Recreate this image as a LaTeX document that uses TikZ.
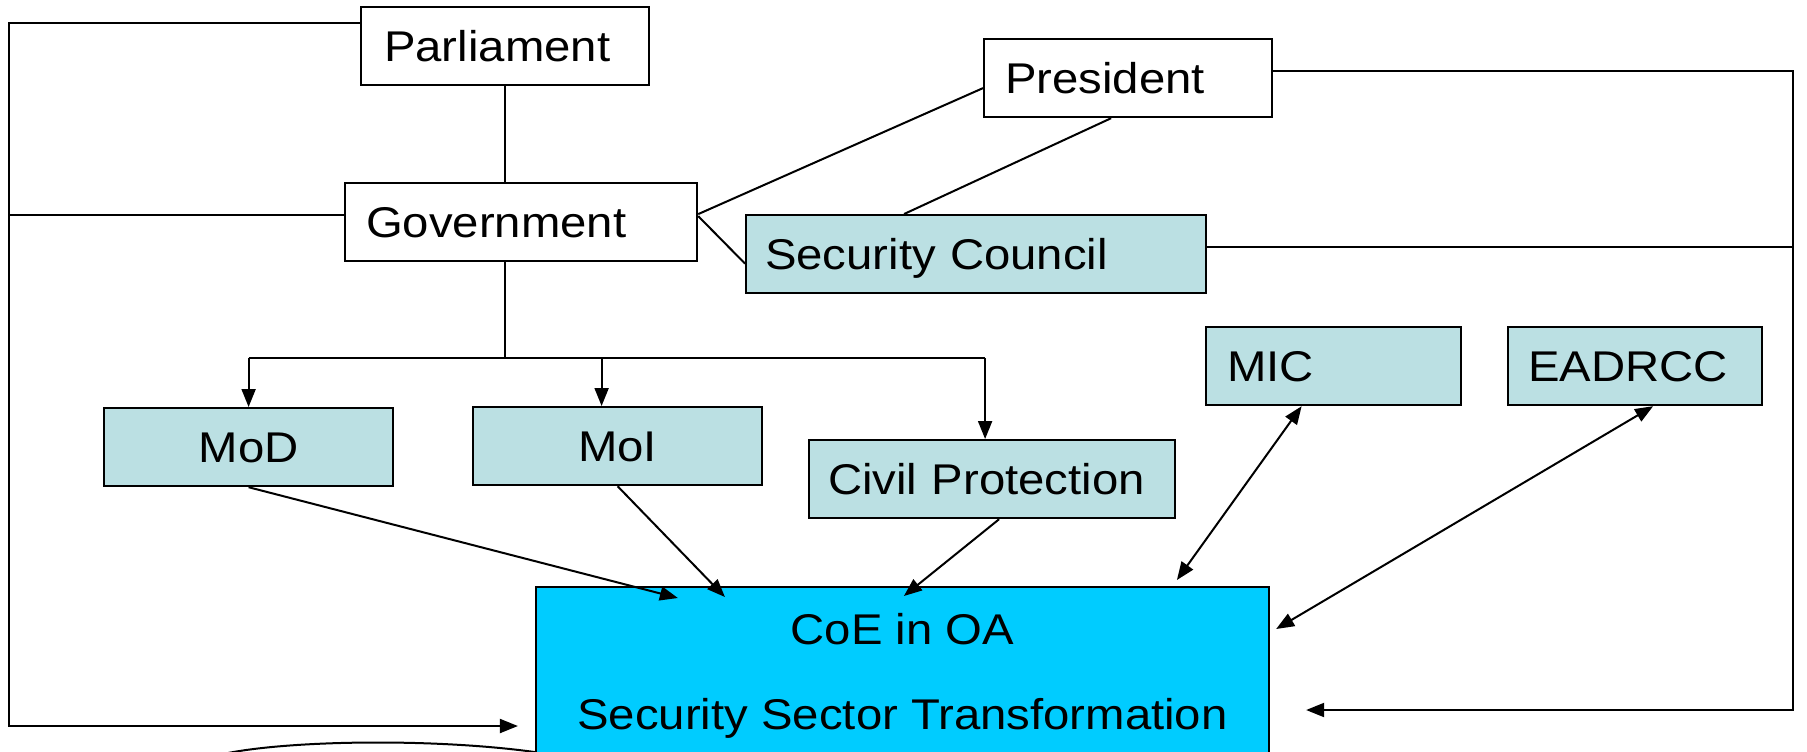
\documentclass[tikz,border=0pt]{standalone}
\usepackage{fontspec}
\setmainfont{Liberation Sans}[FakeStretch=1.1]
\usetikzlibrary{arrows.meta}
\definecolor{paleteal}{RGB}{187,224,227}
\definecolor{coeblue}{RGB}{0,204,255}

\begin{document}
\begin{tikzpicture}
[
    x=0.5pt, y=-0.5pt,
    box/.style={draw, line width=1.1pt, anchor=north west, minimum height=39pt,
        text height=15.4pt, text depth=0pt, font=\fontsize{21.5}{25.5}\selectfont},
    link/.style={line width=1pt},
    flow/.style={-{Triangle[length=9pt,width=7pt]}},
    twoway/.style={{Triangle[length=9pt,width=7pt]}-{Triangle[length=9pt,width=7pt]}},
]
\clip (0,0) rectangle (1807,751);
\coordinate (leftbot) at (9,726);
\coordinate (rightbot) at (1793,710);
\coordinate (fork) at (504,358);
\coordinate (arcL) at (228,753);
\coordinate (arcR) at (560,756);

\node [box, inner xsep=11.5pt, text width=121pt, align=left] (Parliament) at (360,6) {Parliament};
\node [box, inner xsep=10.5pt, text width=123pt, align=left] (President) at (983,38) {President};
\node [box, inner xsep=10.5pt, text width=155pt, align=left] (Government) at (344,182) {Government};
\node [box, fill=paleteal, inner xsep=9.5pt, text width=211pt, align=left] (Council) at (745,214) {Security Council};
\node [box, fill=paleteal, inner xsep=10.5pt, text width=106.5pt, align=left] (MIC) at (1205,326) {MIC};
\node [box, fill=paleteal, inner xsep=10pt, text width=107pt, align=left] (EADRCC) at (1507,326) {EADRCC};
\node [box, fill=paleteal, minimum width=144.5pt] (MoD) at (103,407) {MoD};
\node [box, fill=paleteal, minimum width=144.5pt] (MoI) at (472,406) {MoI};
\node [box, fill=paleteal, inner xsep=9.5pt, text width=164pt, align=left] (Civil) at (808,439) {Civil Protection};

\draw [link] (arcL) .. controls (300,739) and (460,738) .. (arcR);
\node [draw, line width=1.1pt, fill=coeblue, anchor=north, minimum width=366.5pt,
    minimum height=88.3pt, align=center, font=\fontsize{21.5}{25.5}\selectfont]
    (CoE) at (902.5,586) {CoE in OA\\[17pt]Security Sector Transformation};

% upper part
\draw [link] (Parliament.south) -- (Parliament.south |- Government.north);
\draw [link, flow] ([yshift=11.5pt]Parliament.west) -| (leftbot) -- ([xshift=-8.5pt]CoE.west |- leftbot);
\draw [link] ([yshift=3.5pt]Government.west) -- ([yshift=3.5pt]Government.west -| leftbot);
\draw [link] ([yshift=4pt]Government.east) -- ([yshift=-5pt]President.west);
\draw [link] ([yshift=3pt]Government.east) -- ([yshift=-4.75pt]Council.west);
\draw [link] ([xshift=-8.5pt]President.south) -- ([xshift=-36pt]Council.north);
\draw [link, flow] ([yshift=3.5pt]President.east) -| (rightbot) -- ([xshift=18pt]CoE.east |- rightbot);
\draw [link] ([yshift=3.75pt]Council.east) -- ([yshift=3.75pt]Council.east -| rightbot);

% ministries
\draw [link] (Parliament.south |- Government.south) -- (Parliament.south |- fork);
\draw [link] (MoD.north |- fork) -- ([xshift=-3.5pt]Civil.north |- fork);
\draw [link, flow] (MoD.north |- fork) -- (MoD.north);
\draw [link, flow] ([xshift=-8pt]MoI.north |- fork) -- ([xshift=-8pt]MoI.north);
\draw [link, flow] ([xshift=-3.5pt]Civil.north |- fork) -- ([xshift=-3.5pt]Civil.north);

% into the centre
\draw [link, flow] (MoD.south) -- ([xshift=71.5pt, yshift=-6pt]CoE.north west);
\draw [link, flow] (MoI.south) -- ([xshift=95pt, yshift=-5.5pt]CoE.north west);
\draw [link, flow] ([xshift=3.5pt]Civil.south) -- ([xshift=184.5pt, yshift=-5pt]CoE.north west);
\draw [link, twoway] ([xshift=-16pt]MIC.south) -- ([xshift=321pt, yshift=3pt]CoE.north west);
\draw [link, twoway] ([xshift=9pt]EADRCC.south) -- ([xshift=3pt, yshift=-21.5pt]CoE.north east);
\end{tikzpicture}
\end{document}
